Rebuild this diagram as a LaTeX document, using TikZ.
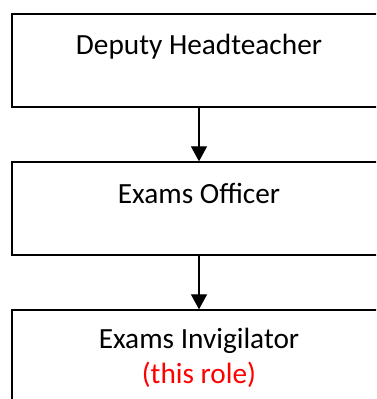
\documentclass[tikz,border=0pt]{standalone}
\usepackage{fontspec}
\setmainfont{Carlito}
\usetikzlibrary{arrows.meta}
\definecolor{rolered}{RGB}{255,0,0}
\begin{document}
\begin{tikzpicture}[x=1pt,y=1pt,
  box/.style={draw=black,line width=1.3pt,minimum width=374pt,minimum height=93pt,inner sep=0pt,anchor=center},
  lbl/.style={font=\fontsize{29.3}{35}\selectfont,anchor=base,inner sep=0pt},
  conn/.style={line width=1.3pt,-{Triangle[width=16pt,length=15pt]}}]
\useasboundingbox (0,0) rectangle (376,399);
\clip (0,0) rectangle (376,399);
\fill[white] (0,0) rectangle (376,399);
\node[box] (b1) at (199,338.5) {};
\node[box] (b2) at (199,190.5) {};
\node[box] (b3) at (199,42.5) {};
\node[lbl] (t1) at (199,344.7) {Deputy Headteacher};
\node[lbl] (t2) at (199,195.7) {Exams Officer};
\node[lbl] (t3) at (199,50.7) {Exams Invigilator};
\node[lbl,text=rolered] (t4) at (199,16) {(this role)};
\draw[conn] (b1.south) -- (b2.north);
\draw[conn] (b2.south) -- (b3.north);
\end{tikzpicture}
\end{document}
